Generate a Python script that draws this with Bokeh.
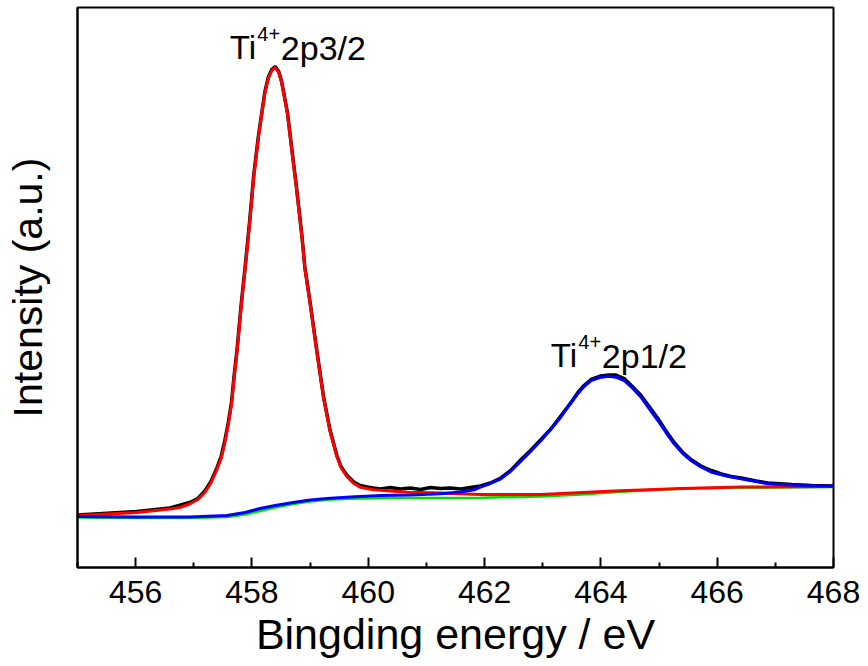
from bokeh.plotting import figure
from bokeh.models import Range1d, Label, FixedTicker
from bokeh.embed import file_html
from bokeh.resources import INLINE

# ---- data (binding energy in eV, intensity in a.u.) ----
raw_x = [455.00, 456.02, 456.59, 456.93, 457.07, 457.19, 457.29, 457.39, 457.47, 457.53,
         457.59, 457.65, 457.69, 457.74, 457.78, 457.82, 457.88, 457.96, 458.03, 458.11,
         458.17, 458.22, 458.28, 458.34, 458.40, 458.46, 458.51, 458.61, 458.68, 458.77,
         458.86, 458.91, 459.00, 459.12, 459.23, 459.34, 459.46, 459.53, 459.63, 459.75,
         459.86, 459.98, 460.09, 460.21, 460.38, 460.55, 460.72, 460.90, 461.07, 461.24,
         461.41, 461.59, 461.76, 461.93, 462.10, 462.28, 462.45, 462.62, 462.79, 462.97,
         463.14, 463.31, 463.48, 463.60, 463.71, 463.83, 464.00, 464.14, 464.26, 464.40,
         464.55, 464.69, 464.83, 464.98, 465.12, 465.26, 465.40, 465.55, 465.72, 465.90,
         466.07, 466.24, 466.41, 466.67, 466.87, 467.28, 467.62, 468.00]
raw_y = [52.5, 56, 59.5, 65, 69, 76.5, 85.5, 98.5, 111, 126,
         144, 166, 190, 216, 241, 266, 299, 346, 392, 431,
         455, 475, 490, 498, 501, 496, 486, 455, 421, 378,
         331, 300, 265, 215, 171, 138, 112, 101, 92.5, 85.5,
         82, 80.5, 79.5, 78.5, 80, 78.5, 79.5, 78, 80, 79,
         79.5, 78.5, 80, 81.5, 84.5, 89.5, 97, 107.5, 117, 128,
         138.5, 151.5, 164.5, 174.5, 182, 188, 191.5, 192.5, 192.5, 189,
         180.5, 172, 161, 149, 136.5, 125, 115.5, 108, 101.5, 97,
         93.5, 91, 89.5, 86.5, 84.5, 83, 82, 81.5]

fit1_x = [455.00, 456.02, 456.59, 456.76, 456.93, 457.07, 457.19, 457.29, 457.39, 457.47,
          457.53, 457.59, 457.65, 457.69, 457.74, 457.78, 457.82, 457.88, 457.96, 458.03,
          458.11, 458.17, 458.22, 458.28, 458.34, 458.40, 458.46, 458.51, 458.61, 458.68,
          458.77, 458.86, 458.91, 459.00, 459.12, 459.23, 459.34, 459.46, 459.53, 459.63,
          459.75, 459.86, 460.09, 460.67, 461.24, 461.93, 462.97, 464.22, 465.38, 466.41,
          468.00]
fit1_y = [52, 55, 58.5, 60, 63.5, 68, 75, 84, 97, 109,
          124, 142, 164, 188, 214, 239, 264, 297, 344, 390,
          430, 454, 474, 489, 497, 500, 495, 485, 454, 420,
          377, 330, 299, 264, 214, 170, 137, 111, 100, 91,
          84, 80.3, 77.7, 75.3, 74.5, 73, 73, 76.5, 79, 80.5,
          81]

fit2_x = [455.00, 456.02, 456.93, 457.57, 457.88, 458.14, 458.40, 458.71, 459.00, 459.29,
          459.69, 460.21, 460.72, 461.24, 461.59, 461.82, 461.93, 462.10, 462.28, 462.45,
          462.62, 462.79, 462.97, 463.14, 463.31, 463.45, 463.60, 463.71, 463.83, 463.98,
          464.14, 464.28, 464.40, 464.55, 464.69, 464.83, 464.98, 465.12, 465.26, 465.40,
          465.55, 465.72, 465.90, 466.16, 466.41, 466.87, 467.45, 468.00]
fit2_y = [51, 50.5, 50.5, 52, 55, 59, 62, 65, 67.5, 69,
          70.5, 72, 72.5, 73.7, 75.5, 77.7, 80.3, 84, 88.7, 96.5,
          106, 116, 127, 138.5, 150.3, 162, 173.7, 181, 187, 190,
          191.3, 190, 187, 179, 170.3, 159, 147, 135, 123.7, 114.5,
          107, 100.5, 95.3, 91.5, 88.7, 83.7, 82, 81.3]

bg_x = [455.00, 456.02, 456.93, 457.57, 457.88, 458.14, 458.40, 458.71, 459.00, 459.34,
        459.86, 460.55, 461.93, 462.97, 463.66, 464.22, 464.86, 465.55, 466.41, 468.00]
bg_y = [50, 49.5, 49.5, 50.5, 53, 56.5, 60, 63.5, 66, 68,
        69, 69.5, 69.8, 71, 73, 75.2, 77.5, 79, 80, 80.5]

x_ticks = [456, 458, 460, 462, 464, 466, 468]
x_minor = [455, 457, 459, 461, 463, 465, 467]

FONT = "Liberation Sans"

p = figure(width=868, height=666, output_backend="svg", toolbar_location=None,
           x_range=Range1d(455, 468), y_range=Range1d(0, 560),
           min_border_left=77, min_border_right=35, min_border_top=7, min_border_bottom=99)
p.grid.visible = False
p.background_fill_color = "white"
p.border_fill_color = "white"
p.outline_line_color = "black"
p.outline_line_width = 2

# bottom axis
xa = p.xaxis[0]
xa.ticker = FixedTicker(ticks=x_ticks, minor_ticks=x_minor)
xa.axis_line_width = 2
xa.major_tick_in = 10
xa.major_tick_out = 0
xa.minor_tick_in = 5
xa.minor_tick_out = 0
xa.major_tick_line_width = 2
xa.minor_tick_line_width = 2
xa.major_label_text_font = FONT
xa.major_label_text_font_size = "32px"
xa.major_label_text_color = "black"
xa.major_label_standoff = 13
xa.axis_label = "Bingding energy / eV"
xa.axis_label_text_font = FONT
xa.axis_label_text_font_size = "43px"
xa.axis_label_text_font_style = "normal"
xa.axis_label_text_color = "black"
xa.axis_label_standoff = 4

# left axis: no ticks, only the title
ya = p.yaxis[0]
ya.axis_line_width = 2
ya.major_tick_in = 0
ya.major_tick_out = 0
ya.minor_tick_in = 0
ya.minor_tick_out = 0
ya.major_label_text_font_size = "0px"
ya.major_label_text_color = None
ya.axis_label = "Intensity (a.u.)"
ya.axis_label_text_font = FONT
ya.axis_label_text_font_size = "41px"
ya.axis_label_text_font_style = "normal"
ya.axis_label_text_color = "black"
ya.axis_label_standoff = 27

# curves
p.line(raw_x, raw_y, line_color="black", line_width=3.5)
p.line(bg_x, bg_y, line_color="#00dd00", line_width=2.5)
p.line(fit1_x, fit1_y, line_color="red", line_width=3)
p.line(fit2_x, fit2_y, line_color="blue", line_width=3)

# peak annotations (Ti^4+ with superscript)
def peak_label(x, y, tail):
    p.add_layout(Label(x=x, y=y, text="Ti", text_font=FONT, text_font_size="33px",
                       text_baseline="alphabetic", text_color="black"))
    p.add_layout(Label(x=x, y=y, x_offset=27.5, y_offset=14, text="4+", text_font=FONT,
                       text_font_size="20px", text_baseline="alphabetic", text_color="black"))
    p.add_layout(Label(x=x, y=y, x_offset=51, text=tail, text_font=FONT,
                       text_font_size="34px", text_baseline="alphabetic", text_color="black"))

peak_label(457.62, 520, "2p3/2")
peak_label(463.14, 212, "2p1/2")

open("out.html", "w").write(file_html(p, INLINE))
